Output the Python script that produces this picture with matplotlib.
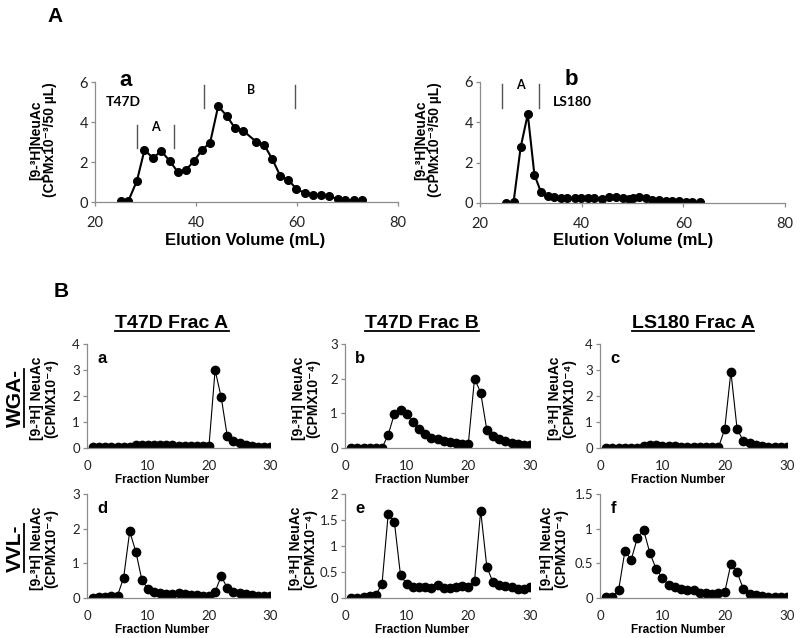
import numpy as np
import matplotlib.pyplot as plt
from matplotlib.lines import Line2D

# ---- Panel A: gel filtration profiles ----
t47d_vol = [25.1, 26.6, 28.3, 29.8, 31.5, 33.1, 34.8, 36.4, 38.0, 39.6, 41.2, 42.8,
            44.4, 46.1, 47.7, 49.3, 51.9, 53.5, 55.1, 56.7, 58.3, 59.9, 61.5, 63.2,
            64.8, 66.4, 68.1, 69.6, 71.2, 72.8]
t47d_cpm = [0.05, 0.05, 1.06, 2.6, 2.2, 2.55, 2.05, 1.5, 1.6, 2.05, 2.6, 2.97,
            4.8, 4.3, 3.7, 3.57, 3.02, 2.85, 2.15, 1.3, 1.1, 0.65, 0.45, 0.33,
            0.33, 0.28, 0.15, 0.08, 0.08, 0.1]
ls180_vol = [25.2, 26.6, 28.0, 29.4, 30.7, 32.0, 33.3, 34.6, 35.9, 37.2, 38.6, 39.9,
             41.2, 42.5, 44.0, 45.4, 46.8, 48.1, 49.4, 50.0, 51.3, 52.6, 53.9, 55.2,
             56.5, 57.8, 59.2, 60.5, 61.8, 63.3]
ls180_cpm = [0.0, 0.03, 2.77, 4.4, 1.41, 0.53, 0.36, 0.28, 0.25, 0.23, 0.23, 0.23,
             0.25, 0.23, 0.22, 0.31, 0.28, 0.25, 0.22, 0.25, 0.31, 0.25, 0.17, 0.13,
             0.12, 0.12, 0.08, 0.07, 0.03, 0.03]

# ---- Panel B: lectin column fractions ----
fractions = list(range(1, 31))
wga_t47d_a = [0.02, 0.02, 0.02, 0.02, 0.02, 0.02, 0.05, 0.12, 0.13, 0.13, 0.13, 0.1,
              0.1, 0.1, 0.09, 0.09, 0.09, 0.09, 0.09, 0.09, 3.0, 1.95, 0.45, 0.26,
              0.19, 0.13, 0.09, 0.05, 0.05, 0.04]
wga_t47d_b = [0.0, 0.0, 0.0, 0.0, 0.0, 0.0, 0.38, 0.98, 1.1, 0.98, 0.74, 0.55,
              0.4, 0.29, 0.27, 0.19, 0.17, 0.14, 0.12, 0.12, 2.0, 1.6, 0.52, 0.35,
              0.27, 0.19, 0.14, 0.11, 0.1, 0.08]
wga_ls180_a = [0.0, 0.0, 0.0, 0.0, 0.0, 0.01, 0.06, 0.12, 0.11, 0.08, 0.07, 0.06,
               0.05, 0.05, 0.04, 0.04, 0.03, 0.03, 0.02, 0.72, 2.93, 0.72, 0.28, 0.18,
               0.12, 0.09, 0.05, 0.04, 0.03, 0.03]
vvl_t47d_a = [0.0, 0.02, 0.02, 0.07, 0.07, 0.58, 1.92, 1.34, 0.52, 0.25, 0.18, 0.14,
              0.12, 0.11, 0.14, 0.11, 0.1, 0.09, 0.07, 0.07, 0.18, 0.63, 0.29, 0.16,
              0.14, 0.11, 0.09, 0.07, 0.06, 0.05]
vvl_t47d_b = [0.0, 0.0, 0.02, 0.04, 0.06, 0.27, 1.61, 1.47, 0.44, 0.27, 0.22, 0.22,
              0.22, 0.2, 0.25, 0.19, 0.2, 0.22, 0.24, 0.22, 0.32, 1.68, 0.6, 0.3,
              0.25, 0.24, 0.21, 0.18, 0.18, 0.21]
vvl_ls180_a = [0.01, 0.01, 0.12, 0.68, 0.55, 0.87, 0.98, 0.65, 0.42, 0.29, 0.19, 0.16,
               0.13, 0.11, 0.12, 0.07, 0.07, 0.06, 0.07, 0.08, 0.49, 0.37, 0.13, 0.06,
               0.05, 0.03, 0.02, 0.02, 0.02, 0.01]

W, H = 800, 638
fig = plt.figure(figsize=(8, 6.38), dpi=100)

def px(x, y):
    return x / W, 1 - y / H

def box(x0, y0, x1, y1):
    return [x0 / W, 1 - y1 / H, (x1 - x0) / W, (y1 - y0) / H]

TICKFONT = ['Lato', 'DejaVu Sans']
ARIAL = ['Liberation Sans', 'DejaVu Sans']
GRAY = '#8c8c8c'

def style(ax, fs, xtick_len, xpad):
    for s in ['top', 'right']:
        ax.spines[s].set_visible(False)
    for s in ['left', 'bottom']:
        ax.spines[s].set_color(GRAY)
        ax.spines[s].set_linewidth(0.9)
    ax.tick_params(axis='x', length=xtick_len, width=0.9, color=GRAY, pad=xpad,
                   labelsize=fs, labelcolor='#222222')
    ax.tick_params(axis='y', length=3, width=0.9, color=GRAY, labelsize=fs,
                   labelcolor='#222222', pad=2)
    for lab in ax.get_xticklabels() + ax.get_yticklabels():
        lab.set_family(TICKFONT)

# ---- Panel A ----
fig.text(*px(55, 16), 'A', fontsize=15, fontweight='bold', family=ARIAL,
         ha='center', va='center')

axa = fig.add_axes(box(95, 82, 398, 202))
axa.plot(t47d_vol, t47d_cpm, '-o', color='black', lw=1.5, ms=5.5)
axa.set_xlim(20, 80)
axa.set_ylim(0, 6)
axa.set_xticks([20, 40, 60, 80])
axa.set_yticks([0, 2, 4, 6])
style(axa, 10.5, 3, 7)
for xv, (y0, y1) in [(28.3, (2.7, 3.85)), (35.6, (2.7, 3.85)),
                     (41.5, (4.7, 5.85)), (59.6, (4.7, 5.85))]:
    axa.plot([xv, xv], [y0, y1], color='#555555', lw=1)
axa.text(31.9, 3.75, 'A', fontsize=9, fontweight='bold', family=TICKFONT, ha='center', va='center')
axa.text(51.0, 5.6, 'B', fontsize=9, fontweight='bold', family=TICKFONT, ha='center', va='center')
axa.text(25.5, 5.0, 'T47D', fontsize=10, fontweight='bold', family=TICKFONT, ha='center', va='center')
axa.text(26.0, 6.05, 'a', fontsize=16, fontweight='bold', family=ARIAL, ha='center', va='center')

axb = fig.add_axes(box(480, 82, 785, 203))
axb.plot(ls180_vol, ls180_cpm, '-o', color='black', lw=1.5, ms=5.5)
axb.set_xlim(20, 80)
axb.set_ylim(0, 6)
axb.set_xticks([20, 40, 60, 80])
axb.set_yticks([0, 2, 4, 6])
style(axb, 10.5, 3, 7)
for xv in [24.3, 31.7]:
    axb.plot([xv, xv], [4.73, 5.89], color='#555555', lw=1)
axb.text(27.9, 5.85, 'A', fontsize=9, fontweight='bold', family=TICKFONT, ha='center', va='center')
axb.text(38.2, 5.0, 'LS180', fontsize=10, fontweight='bold', family=TICKFONT, ha='center', va='center')
axb.text(37.9, 6.1, 'b', fontsize=16, fontweight='bold', family=ARIAL, ha='center', va='center')

ylab_a = '[9-³H]NeuAc\n(CPMx10⁻³/50 µL)'
fig.text(*px(43, 140), ylab_a, rotation=90, fontsize=10, fontweight='bold',
         family=ARIAL, ha='center', va='center', linespacing=1.0)
fig.text(*px(428, 140), ylab_a, rotation=90, fontsize=10, fontweight='bold',
         family=ARIAL, ha='center', va='center', linespacing=1.0)
fig.text(*px(245, 240), 'Elution Volume (mL)', fontsize=12, fontweight='bold',
         family=ARIAL, ha='center', va='center')
fig.text(*px(633, 240), 'Elution Volume (mL)', fontsize=12, fontweight='bold',
         family=ARIAL, ha='center', va='center')

# ---- Panel B ----
fig.text(*px(61, 292), 'B', fontsize=15, fontweight='bold', family=ARIAL,
         ha='center', va='center')

cols = [(87, 270), (345, 530), (600, 787)]
rows = [(344, 448), (494, 598)]
series = [[wga_t47d_a, wga_t47d_b, wga_ls180_a],
          [vvl_t47d_a, vvl_t47d_b, vvl_ls180_a]]
yticks = [[[0, 1, 2, 3, 4], [0, 1, 2, 3], [0, 1, 2, 3, 4]],
          [[0, 1, 2, 3], [0, 0.5, 1, 1.5, 2], [0, 0.5, 1, 1.5]]]
letters = [['a', 'b', 'c'], ['d', 'e', 'f']]
ylab_x = [[44, 306, 562], [44, 303, 554]]
titles = ['T47D Frac A', 'T47D Frac B', 'LS180 Frac A']
title_x = [172, 422, 693]
xlab_x = [162, 422, 678]
ylab_b = '[9-³H] NeuAc\n(CPMX10⁻⁴)'

underline = []
for r, (y0, y1) in enumerate(rows):
    for c, (x0, x1) in enumerate(cols):
        ax = fig.add_axes(box(x0, y0, x1, y1))
        ax.plot(fractions, series[r][c], '-o', color='black', lw=0.8, ms=6)
        ax.set_xlim(0, 30)
        yt = yticks[r][c]
        ax.set_ylim(0, yt[-1])
        ax.set_yticks(yt)
        ax.set_yticklabels(['%g' % v for v in yt])
        ax.set_xticks([0, 10, 20, 30])
        style(ax, 9.5, 0, 9)
        ax.text(0.055, 0.86, letters[r][c], transform=ax.transAxes, fontsize=12,
                fontweight='bold', family=ARIAL, ha='left', va='center')
        fig.text(*px(ylab_x[r][c], (y0 + y1) / 2 + 2), ylab_b, rotation=90,
                 fontsize=10, fontweight='bold', family=ARIAL, ha='center',
                 va='center', linespacing=1.0)
        fig.text(*px(xlab_x[c], y1 + 32), 'Fraction Number', fontsize=8.5,
                 fontweight='bold', family=ARIAL, ha='center', va='center')

for c in range(3):
    t = fig.text(*px(title_x[c], 323), titles[c], fontsize=14, fontweight='bold',
                 family=ARIAL, ha='center', va='center')
    underline.append((t, 'h'))

for lab, yc in [('WGA-', 398), ('VVL-', 548)]:
    t = fig.text(*px(15, yc), lab, rotation=90, fontsize=15, fontweight='bold',
                 family=ARIAL, ha='center', va='center')
    underline.append((t, 'v'))

# underline the column titles and row labels
renderer = fig.canvas.get_renderer()
for t, kind in underline:
    bb = t.get_window_extent(renderer=renderer)
    if kind == 'h':
        yy = bb.y0 + 1
        line = Line2D([bb.x0 / W, bb.x1 / W], [yy / H, yy / H],
                      transform=fig.transFigure, color='black', lw=1.3)
    else:
        xx = bb.x1 - 1
        line = Line2D([xx / W, xx / W], [bb.y0 / H, bb.y1 / H],
                      transform=fig.transFigure, color='black', lw=1.3)
    fig.add_artist(line)

plt.savefig('out.png', dpi=100)
